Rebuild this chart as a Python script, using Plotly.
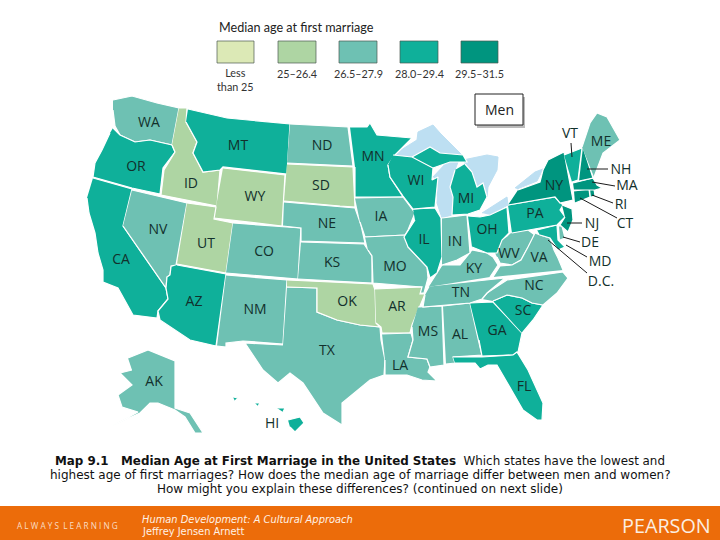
import plotly.graph_objects as go

# Bins of median age, lowest to highest
BIN_LABELS = ["Less<br>than 25", "25–26.4", "26.5–27.9", "28.0–29.4", "29.5–31.5"]
BIN_COLORS = ["#dce9b6", "#aed5a3", "#6ec1b3", "#0fb09a", "#00957f"]

# State outlines, in map units
WA = [(113,100),(132,96),(157,103),(179,108),(172,145),(150,140),(135,142),(120,135),(115,126),(113,110)]
OR = [(113,128),(120,135),(135,142),(150,140),(172,145),(175,152),(163,168),(160,194),(132,188),(93,177),(95,163),(102,150),(110,133)]
CA = [(93,178),(132,189),(123,226),(152,268),(166,288),(168,299),(158,311),(157,318),(133,315),(118,288),(103,282),(103,270),(98,253),(95,233),(89,213),(87,198)]
NV = [(132,190),(187,203),(176,265),(171,266),(170,275),(167,277),(166,288),(123,226)]
ID = [(179,108),(187,108),(186,122),(197,142),(193,153),(203,172),(220,170),(217,206),(161,195),(164,170),(175,152),(172,145)]
MT = [(188,109),(227,118),(290,124),(287,174),(223,167),(220,170),(203,172),(193,153),(197,142),(186,122)]
WY = [(223,168),(285,175),(282,226),(214,218)]
UT = [(187,203),(216,207),(214,219),(233,223),(226,273),(177,264)]
CO = [(233,223),(301,228),(298,279),(226,273)]
AZ = [(177,265),(226,274),(216,346),(190,340),(160,320),(158,311),(168,299),(166,288),(167,277),(170,275),(171,267)]
NM = [(226,275),(287,280),(283,344),(243,341),(226,343),(226,347),(217,346)]
TX = [(287,287),(317,288),(317,312),(337,320),(360,325),(380,327),(381,340),(385,360),(384,375),(370,380),(342,403),(342,425),(323,413),(303,383),(290,373),(278,383),(263,370),(245,343),(283,345)]
ND = [(290,124),(348,127),(353,166),(287,163)]
SD = [(287,164),(353,167),(355,207),(340,206),(284,201)]
NE = [(284,202),(340,207),(355,208),(361,225),(365,243),(301,241),(301,228),(283,226)]
KS = [(301,242),(364,244),(368,250),(372,256),(372,283),(298,279)]
OK = [(287,280),(373,284),(375,290),(376,323),(380,327),(360,325),(337,320),(317,312),(317,288),(287,287)]
MN = [(350,127),(367,127),(370,123),(377,135),(412,138),(395,155),(388,165),(390,177),(403,197),(355,197),(355,167)]
IA = [(355,198),(403,197),(415,213),(408,230),(405,235),(365,237),(360,222)]
MO = [(365,237),(405,235),(408,247),(427,267),(428,278),(426,286),(424,293),(420,293),(421,287),(373,283),(372,256),(368,250)]
AR = [(375,289),(422,287),(420,294),(425,294),(412,325),(410,333),(382,333),(381,327),(376,323)]
LA = [(382,334),(411,333),(413,340),(408,357),(427,359),(430,367),(428,372),(437,381),(422,380),(407,375),(385,375),(385,360)]
MS = [(418,307),(442,306),(444,365),(430,367),(427,359),(408,357),(413,340),(412,327)]
AL = [(443,306),(470,303),(480,347),(482,355),(453,357),(455,363),(446,364)]
GA = [(470,303),(493,302),(522,333),(518,352),(513,355),(482,356),(479,340)]
FL = [(453,357),(482,357),(513,355),(517,352),(528,370),(543,403),(542,420),(537,420),(523,410),(510,387),(497,365),(488,365),(480,369),(475,363),(455,363)]
SC = [(493,301),(507,295),(522,298),(532,303),(543,305),(533,320),(523,332),(522,333)]
NC = [(482,299),(487,293),(507,280),(563,272),(568,278),(557,293),(543,305),(532,303),(522,298),(507,295),(493,301)]
TN = [(430,286),(505,278),(487,293),(482,299),(470,303),(423,307),(425,295)]
KY = [(428,287),(437,273),(442,265),(460,265),(472,250),(487,253),(493,257),(498,265),(490,277)]
WV = [(495,253),(501,240),(507,236),(510,233),(525,230),(528,230),(535,235),(528,247),(521,260),(512,265),(500,263),(497,257)]
VA = [(493,277),(500,266),(512,265),(521,260),(528,247),(535,233),(540,235),(550,238),(554,250),(558,258),(563,270)]
MD = [(537,230),(557,225),(558,240),(565,247),(558,250),(550,238),(540,235)]
DE = [(559,226),(562,226),(565,238),(560,240)]
PA = [(508,205),(555,197),(563,205),(560,210),(565,217),(557,225),(512,233)]
NY = [(518,190),(540,182),(543,170),(548,160),(564,152),(573,200),(560,203),(555,197),(508,205)]
NJ = [(562,205),(572,209),(573,220),(568,232),(560,225),(565,217)]
CT = [(574,191),(589,189),(590,197),(575,203)]
RI = [(590,189),(594,189),(595,196),(591,197)]
MA = [(573,183),(593,178),(597,185),(602,188),(595,190),(574,190)]
VT = [(564,155),(582,148),(578,180),(572,182)]
NH = [(583,147),(593,178),(579,181)]
ME = [(582,147),(590,123),(597,113),(607,117),(620,140),(603,153),(594,177)]
IL = [(413,209),(435,208),(441,218),(442,257),(437,273),(430,278),(427,267),(408,247),(404,237),(415,220)]
IN = [(442,218),(467,215),(470,253),(457,260),(442,265)]
OH = [(468,216),(480,217),(490,215),(507,207),(509,233),(502,240),(497,253),(487,253),(472,247)]
MI = [(465,164),(472,172),(477,187),(483,183),(487,197),(480,210),(468,214),(452,215),(453,197),(450,187),(455,170),None,
      (412,157),(430,147),(440,153),(463,155),(467,162),(450,162),(433,168)]
WI = [(393,155),(412,157),(433,168),(432,180),(438,177),(435,207),(413,209),(403,196),(390,177),(388,165)]
AK = [(128,358),(148,350),(175,361),(175,408),(190,413),(203,433),(195,433),(185,417),(175,410),(158,403),(150,403),(140,413),(112,426),(138,412),(122,407),(118,395),(132,385),(120,373),(132,370)]
HI = [(288,420),(300,417),(304,423),(295,432),(290,427),None,(277,408),(285,408),(283,412),None,(255,403),(260,403),(258,406),None,(233,397),(238,398),(235,401)]

LAKE_SUPERIOR = [(393,155),(417,140),(418,132),(433,125),(440,133),(452,145),(465,158),(440,153),(430,147),(412,157)]
LAKE_MICHIGAN = [(433,177),(447,162),(458,162),(455,170),(450,187),(453,197),(452,215),(442,218),(437,203),(438,183)]
LAKE_HURON = [(463,160),(487,155),(498,157),(497,170),(488,187),(487,197),(483,183),(477,187),(472,172),(465,164)]
LAKE_ERIE = [(482,213),(507,197),(508,205),(490,215)]
LAKE_ONTARIO = [(515,188),(535,172),(543,169),(537,181),(517,189)]
LAKES = [LAKE_SUPERIOR, LAKE_MICHIGAN, LAKE_HURON, LAKE_ERIE, LAKE_ONTARIO]

STATES = {"WA":(WA,2),"OR":(OR,3),"CA":(CA,3),"NV":(NV,2),"ID":(ID,1),"MT":(MT,3),"WY":(WY,1),"UT":(UT,1),"CO":(CO,2),
          "AZ":(AZ,3),"NM":(NM,2),"TX":(TX,2),"ND":(ND,2),"SD":(SD,1),"NE":(NE,2),"KS":(KS,2),"OK":(OK,1),"MN":(MN,3),
          "IA":(IA,2),"MO":(MO,2),"AR":(AR,1),"LA":(LA,2),"MS":(MS,2),"AL":(AL,2),"GA":(GA,3),"FL":(FL,3),"SC":(SC,3),
          "NC":(NC,2),"TN":(TN,2),"KY":(KY,2),"WV":(WV,2),"VA":(VA,2),"MD":(MD,3),"DE":(DE,2),"PA":(PA,3),"NY":(NY,4),
          "NJ":(NJ,4),"CT":(CT,4),"RI":(RI,4),"MA":(MA,4),"VT":(VT,3),"NH":(NH,4),"ME":(ME,2),"IL":(IL,3),"IN":(IN,2),
          "OH":(OH,3),"MI":(MI,3),"WI":(WI,3),"AK":(AK,2),"HI":(HI,3)}

LABELS = ["WA","OR","CA","NV","ID","MT","WY","UT","CO","AZ","NM","TX","ND","SD","NE","KS","OK","MN","IA","MO","AR","LA",
          "WI","IL","IN","MI","OH","KY","TN","MS","AL","GA","FL","SC","NC","WV","VA","NY","PA","ME","AK","HI",
          "VT","NH","MA","RI","CT","NJ","DE","MD","D.C."]
LABEL_X = [149,136,121,158,191,238,255,206,264,194,255,327,322,321,327,332,347,373,381,395,397,400,
           416,424,455,466,487,474,461,428,460,497,524,523,534,509,539,554,535,601,154,272,
           570,621,627,621,625,592,590,600,601]
LABEL_Y = [123,167,260,230,184,146,197,244,252,302,310,351,146,186,224,263,302,157,217,267,307,366,
           181,240,242,199,230,269,293,332,335,331,387,311,286,254,258,186,214,142,382,424,
           134,170,186,205,224,224,243,262,282]

# Leader lines from the small eastern states to their labels
LEADER_X = [[571,572],[587,608],[592,615],[592,613],[580,617],[567,582],[563,580],[566,587],[548,587]]
LEADER_Y = [[143,157],[169,169],[182,186],[195,203],[198,218],[223,223],[237,242],[245,257],[240,273]]

SWATCH_X0 = [217,278,339,400,461]
SWATCH_X1 = [254,316,377,438,498]

fig = go.Figure()

for lake in LAKES:
    fig.add_trace(go.Scatter(x=[p[0] for p in lake], y=[p[1] for p in lake], mode="lines", fill="toself",
                             fillcolor="#bddff2", line=dict(color="#bddff2", width=1), hoverinfo="skip"))

for code, (outline, b) in STATES.items():
    xs = [p[0] if p else None for p in outline]
    ys = [p[1] if p else None for p in outline]
    fig.add_trace(go.Scatter(x=xs, y=ys, mode="lines", fill="toself", fillcolor=BIN_COLORS[b],
                             line=dict(color="white", width=1.2), name=code, hoverinfo="name"))

for lx, ly in zip(LEADER_X, LEADER_Y):
    fig.add_trace(go.Scatter(x=lx, y=ly, mode="lines", line=dict(color="#1a1a1a", width=1), hoverinfo="skip"))

fig.add_trace(go.Scatter(x=LABEL_X, y=LABEL_Y, mode="text", text=LABELS, textposition="middle center",
                         textfont=dict(family="Open Sans", size=14, color="#12302c"), hoverinfo="skip"))

shapes = []
for x0, x1, c in zip(SWATCH_X0, SWATCH_X1, BIN_COLORS):
    shapes.append(dict(type="rect", x0=x0, x1=x1, y0=41, y1=63, xref="x", yref="y", fillcolor=c,
                       line=dict(color="#4a5a50", width=0.7), layer="below"))
shapes.append(dict(type="rect", x0=477, x1=525, y0=97, y1=128, xref="x", yref="y", fillcolor="#bbbbbb",
                   line=dict(width=0), layer="below"))
shapes.append(dict(type="rect", x0=475, x1=523, y0=94, y1=125, xref="x", yref="y", fillcolor="white",
                   line=dict(color="#222222", width=1), layer="below"))
shapes.append(dict(type="rect", x0=0, x1=720, y0=506, y1=540, xref="x", yref="y", fillcolor="#ec6c0a",
                   line=dict(width=0), layer="below"))

def note(x, y, text, size, family="Open Sans", color="#222222", anchor="center"):
    return dict(x=x, y=y, xref="x", yref="y", text=text, showarrow=False, xanchor=anchor, yanchor="middle",
                font=dict(family=family, size=size, color=color), align="center")

ann = [note(217, 27, "Median age at first marriage", 12.6, "Lato", anchor="left"),
       note(499, 109, "Men", 14)]
for x0, x1, t in zip(SWATCH_X0, SWATCH_X1, BIN_LABELS):
    y = 79 if "<br>" in t else 73
    ann.append(note((x0 + x1) / 2, y, t, 10.8, "Lato", "#333333"))
cap = "DejaVu Sans"
ann += [note(360, 461, "<b>Map 9.1   Median Age at First Marriage in the United States</b>  Which states have the lowest and", 11.9, cap, "#111111"),
        note(360, 475, "highest age of first marriages? How does the median age of marriage differ between men and women?", 12, cap, "#111111"),
        note(360, 489, "How might you explain these differences? (continued on next slide)", 12, cap, "#111111"),
        note(15, 525, "A L W A Y S  L E A R N I N G", 8.2, "Open Sans", "#f9dcc4", "left"),
        note(140, 519, "<i>Human Development: A Cultural Approach</i>", 9.9, cap, "#fff2e6", "left"),
        note(140, 531, "Jeffrey Jensen Arnett", 9.9, cap, "#fff2e6", "left"),
        note(666, 525, "PEARSON", 19.8, "Open Sans", "#fbeee2")]

fig.update_layout(width=720, height=540, margin=dict(l=0, r=0, t=0, b=0), showlegend=False,
                  plot_bgcolor="white", paper_bgcolor="white", shapes=shapes, annotations=ann,
                  xaxis=dict(range=[0, 720], visible=False, fixedrange=True),
                  yaxis=dict(range=[540, 0], visible=False, fixedrange=True))
fig.write_html("out.html", config=dict(displayModeBar=False),
               post_script="document.body.style.margin='0';document.documentElement.style.overflow='hidden';")
